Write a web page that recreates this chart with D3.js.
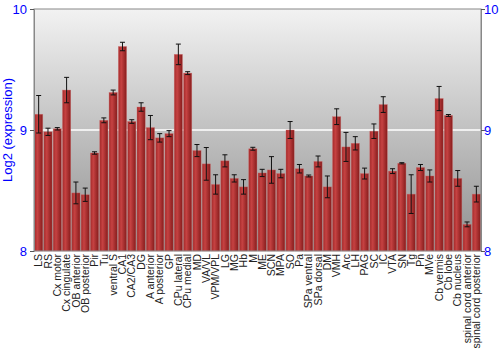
<!DOCTYPE html>
<html>
<head>
  <script src="https://d3js.org/d3.v7.min.js"></script>
  <style>
    body { margin: 0; background: #fff; }
    text { font-family: "Liberation Sans", Arial, sans-serif; }
  </style>
</head>
<body>
  <script>
    // regiones y valores log2
    var regions = ["LS", "RS", "Cx motor", "Cx cingulate", "OB anterior", "OB posterior", "Pir", "Tu",
      "ventral S", "CA1", "CA2/CA3", "DG", "A anterior", "A posterior", "GP", "CPu lateral", "CPu medial",
      "MD", "VA/VL", "VPM/VPL", "LG", "MG", "Hb", "M", "ME", "SCN", "MPA", "SO", "Pa", "SPa ventral",
      "SPa dorsal", "DM", "VMH", "Arc", "LH", "PAG", "SC", "IC", "VTA", "SN", "Tg", "Pn", "MVe",
      "Cb vermis", "Cb lobe", "Cb nucleus", "spinal cord anterior", "spinal cord posterior"];
    var expression = [9.13, 8.985, 9.01, 9.33, 8.48, 8.465, 8.81, 9.08,
      9.31, 9.69, 9.07, 9.19, 9.02, 8.935, 8.97, 9.625, 9.47,
      8.83, 8.72, 8.55, 8.745, 8.60, 8.53, 8.845, 8.645, 8.67, 8.64, 9.0, 8.68, 8.62,
      8.74, 8.53, 9.11, 8.86, 8.89, 8.64, 8.99, 9.21, 8.66, 8.725, 8.47, 8.69, 8.62,
      9.26, 9.12, 8.60, 8.22, 8.47];
    var errors = [0.155, 0.03, 0.01, 0.105, 0.09, 0.055, 0.01, 0.02,
      0.02, 0.035, 0.015, 0.035, 0.1, 0.035, 0.025, 0.085, 0.012,
      0.05, 0.135, 0.08, 0.05, 0.03, 0.06, 0.012, 0.03, 0.11, 0.035, 0.07, 0.035, 0.008,
      0.045, 0.09, 0.065, 0.12, 0.055, 0.045, 0.06, 0.065, 0.02, 0.005, 0.16, 0.025, 0.05,
      0.1, 0.008, 0.065, 0.02, 0.065];
    var yTicks = [8, 9, 10];

    var margin = {top: 9, right: 19, bottom: 99, left: 34};
    var width = 500 - margin.left - margin.right;
    var height = 350 - margin.top - margin.bottom;

    var svg = d3.select("body").append("svg")
      .attr("width", 500)
      .attr("height", 350);

    var defs = svg.append("defs");
    var bg = defs.append("linearGradient").attr("id", "bg")
      .attr("x1", 0).attr("y1", 0).attr("x2", 0).attr("y2", 1);
    bg.append("stop").attr("offset", "0%").attr("stop-color", "#f2f2f2");
    bg.append("stop").attr("offset", "100%").attr("stop-color", "#909090");

    var barGrad = defs.append("linearGradient").attr("id", "bar")
      .attr("x1", 0).attr("y1", 0).attr("x2", 1).attr("y2", 0);
    barGrad.append("stop").attr("offset", "0%").attr("stop-color", "#a42a2a");
    barGrad.append("stop").attr("offset", "35%").attr("stop-color", "#c64242");
    barGrad.append("stop").attr("offset", "100%").attr("stop-color", "#861c1c");

    var g = svg.append("g").attr("transform", "translate(" + margin.left + "," + margin.top + ")");

    var x = d3.scaleBand().domain(regions).range([0, width]).paddingInner(0.12).paddingOuter(0.06);
    var y = d3.scaleLinear().domain([8, 10]).range([height, 0]);

    g.append("rect").attr("width", width).attr("height", height).attr("fill", "url(#bg)");

    // linea blanca en 9
    g.append("line")
      .attr("x1", 0).attr("x2", width)
      .attr("y1", y(9)).attr("y2", y(9))
      .attr("stroke", "#fff").attr("stroke-width", 1.5);

    var data = regions.map(function (r, i) { return {r: r, v: expression[i], e: errors[i]}; });

    g.selectAll(".bar").data(data).enter().append("rect")
      .attr("class", "bar")
      .attr("x", function (d) { return x(d.r); })
      .attr("y", function (d) { return y(d.v); })
      .attr("width", x.bandwidth())
      .attr("height", function (d) { return height - y(d.v); })
      .attr("fill", "url(#bar)")
      .attr("stroke", "#d06a6a")
      .attr("stroke-opacity", 0.6)
      .attr("stroke-width", 0.6);

    var eb = g.selectAll(".err").data(data).enter().append("g")
      .attr("class", "err")
      .attr("stroke", "#111").attr("stroke-width", 1);
    eb.append("line")
      .attr("x1", function (d) { return x(d.r) + x.bandwidth() / 2; })
      .attr("x2", function (d) { return x(d.r) + x.bandwidth() / 2; })
      .attr("y1", function (d) { return y(d.v + d.e); })
      .attr("y2", function (d) { return y(d.v - d.e); });
    [1, -1].forEach(function (s) {
      eb.append("line")
        .attr("x1", function (d) { return x(d.r) + x.bandwidth() / 2 - 2.5; })
        .attr("x2", function (d) { return x(d.r) + x.bandwidth() / 2 + 2.5; })
        .attr("y1", function (d) { return y(d.v + s * d.e); })
        .attr("y2", function (d) { return y(d.v + s * d.e); });
    });

    // borde
    g.append("rect").attr("width", width).attr("height", height)
      .attr("fill", "none").attr("stroke", "#888").attr("stroke-width", 1);

    var yAxisL = g.append("g").call(d3.axisLeft(y).tickValues(yTicks).tickSize(4).tickFormat(d3.format("d")));
    var yAxisR = g.append("g").attr("transform", "translate(" + width + ",0)")
      .call(d3.axisRight(y).tickValues(yTicks).tickSize(4).tickFormat(d3.format("d")));
    [yAxisL, yAxisR].forEach(function (a) {
      a.select(".domain").attr("stroke", "#888");
      a.selectAll(".tick line").attr("stroke", "#555");
      a.selectAll(".tick text").attr("fill", "#0000ff").style("font-size", "13px");
    });
    yAxisR.selectAll(".tick text").attr("x", 3);

    var xAxis = g.append("g").attr("transform", "translate(0," + height + ")")
      .call(d3.axisBottom(x).tickSize(0));
    xAxis.select(".domain").remove();
    xAxis.selectAll(".tick text")
      .attr("transform", "rotate(-90)")
      .attr("x", -3).attr("y", 0).attr("dy", "0.35em")
      .style("text-anchor", "end")
      .style("font-size", "10.5px")
      .attr("fill", "#222");

    svg.append("text")
      .attr("transform", "translate(12," + (margin.top + height / 2) + ") rotate(-90)")
      .attr("text-anchor", "middle")
      .attr("fill", "#0000ff")
      .style("font-size", "13px")
      .text("Log2 (expression)");
  </script>
</body>
</html>
